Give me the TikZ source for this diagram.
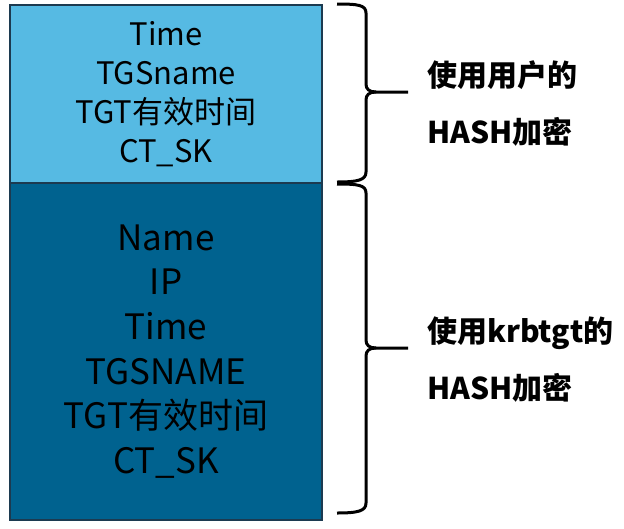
\documentclass[tikz,border=0pt]{standalone}
\usepackage{fontspec}
\setmainfont{Noto Sans CJK SC}
\usetikzlibrary{positioning}
\definecolor{userblue}{HTML}{56BAE3}
\definecolor{krbblue}{HTML}{00628F}
\definecolor{boxline}{HTML}{1C3A50}

\begin{document}
\begin{tikzpicture}[
  x=1pt, y=-1pt,
  every node/.style={align=center, inner sep=0pt},
  field box/.style={draw=boxline, line width=2pt, minimum width=312pt},
  brace line/.style={draw, line width=3pt},
  enc label/.style={anchor=west, align=left, font=\fontsize{30}{57}\selectfont\bfseries}
]
\useasboundingbox (0,0) rectangle (624,528);
% the two parts of the ticket
\node[field box, fill=userblue, minimum height=178pt,
  font=\fontsize{31}{39}\selectfont] (userpart) at (166,94)
  {Time\\TGSname\\TGT有效时间\\CT\_SK};
\node[field box, fill=krbblue, minimum height=337pt,
  font=\fontsize{35}{44.6}\selectfont] (krbpart) at (166,351.5)
  {Name\\IP\\Time\\TGSNAME\\TGT有效时间\\CT\_SK};
% braces
\draw[brace line] (337,4) .. controls (358,4) and (366,5) .. (366,13) -- (366,84)
  .. controls (366,89) and (369,92) .. (376,92) -- (408,92);
\draw[brace line] (376,92) .. controls (369,92) and (366,95) .. (366,100) -- (366,172)
  .. controls (366,180) and (358,182) .. (337,182);
\draw[brace line] (337,184) .. controls (358,184) and (366,185) .. (366,193) -- (366,340)
  .. controls (366,345) and (369,348) .. (376,348) -- (408,348);
\draw[brace line] (376,348) .. controls (369,348) and (366,351) .. (366,356) -- (366,503)
  .. controls (366,511) and (358,513) .. (337,513);
% labels
\node[enc label] (userlabel) at (427,104) {使用用户的\\HASH加密};
\node[enc label] (krblabel) at (427,360) {使用krbtgt的\\HASH加密};
\end{tikzpicture}
\end{document}
